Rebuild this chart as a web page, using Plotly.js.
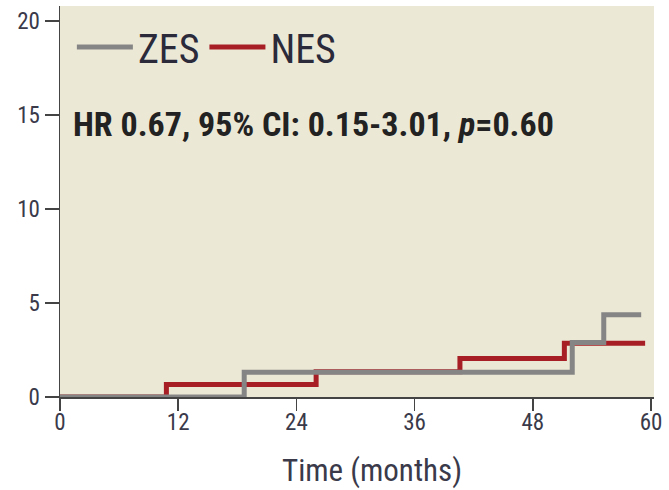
<!DOCTYPE html>
<html>
<head>
<meta charset="utf-8">
<script src="https://cdn.plot.ly/plotly-3.0.1.min.js"></script>
<style>html,body{margin:0;padding:0;background:#fff;}#chart{width:669px;height:490px;}</style>
</head>
<body>
<div id="chart"></div>
<script>
// Data (cumulative event rate, %)
var nesMonths = [0, 10.8, 26.0, 40.6, 51.2, 59.4];
var nesValues = [0, 0.67, 1.34, 2.05, 2.86, 2.86];
var zesMonths = [0, 18.7, 52.0, 55.2, 59.0];
var zesValues = [0, 1.32, 2.9, 4.37, 4.37];
var seriesNames = ["ZES", "NES"];
var xTicks = [0, 12, 24, 36, 48, 60];
var yTicks = [0, 5, 10, 15, 20];
var statsText = "HR 0.67, 95% CI: 0.15-3.01, <i>p</i>=0.60";
var xTitle = "Time (months)";

var FONT = "'Roboto Condensed', 'Open Sans Condensed', sans-serif";
var GRAY = "#858585", RED = "#A71E25";

var traces = [
  {x: nesMonths, y: nesValues, name: seriesNames[1], type: "scatter", mode: "lines",
   line: {shape: "hv", color: RED, width: 5}, legendrank: 2},
  {x: zesMonths, y: zesValues, name: seriesNames[0], type: "scatter", mode: "lines",
   line: {shape: "hv", color: GRAY, width: 5}, legendrank: 1}
];

var layout = {
  width: 669, height: 490,
  margin: {l: 60, r: 15, t: 6, b: 93},
  paper_bgcolor: "#ffffff",
  plot_bgcolor: "#ECE8D6",
  font: {family: FONT, color: "#333"},
  showlegend: true,
  legend: {orientation: "h", x: 0.02, y: 0.978, xanchor: "left", yanchor: "top",
           bgcolor: "rgba(0,0,0,0)", itemwidth: 56, traceorder: "normal",
           font: {family: FONT, size: 40, color: "#2a2a3a"}},
  xaxis: {range: [0, 60.3], tickvals: xTicks, ticktext: xTicks.map(String),
          showgrid: false, zeroline: false, showline: true, linecolor: "#444", linewidth: 1.5,
          ticks: "outside", ticklen: 12, tickwidth: 1.5, tickcolor: "#444",
          ticklabelstandoff: -8,
          tickfont: {family: FONT, size: 23, color: "#3a3a4a"},
          fixedrange: true},
  yaxis: {range: [0, 20.8], tickvals: yTicks, ticktext: yTicks.map(String),
          showgrid: false, zeroline: false, showline: true, linecolor: "#444", linewidth: 1.5,
          ticks: "outside", ticklen: 14, tickwidth: 1.5, tickcolor: "#444",
          tickfont: {family: FONT, size: 23, color: "#3a3a4a"}, fixedrange: true},
  annotations: [
    {text: "<b>" + statsText + "</b>", xref: "paper", yref: "paper", x: 0.018, y: 0.698,
     xanchor: "left", yanchor: "middle", showarrow: false,
     font: {family: FONT, size: 34, color: "#222"}},
    {text: xTitle, xref: "paper", yref: "paper", x: 0.525, y: -0.188,
     xanchor: "center", yanchor: "middle", showarrow: false,
     font: {family: FONT, size: 31, color: "#3a3a4a"}}
  ]
};

Plotly.newPlot("chart", traces, layout, {displayModeBar: false, staticPlot: true});
</script>
</body>
</html>
